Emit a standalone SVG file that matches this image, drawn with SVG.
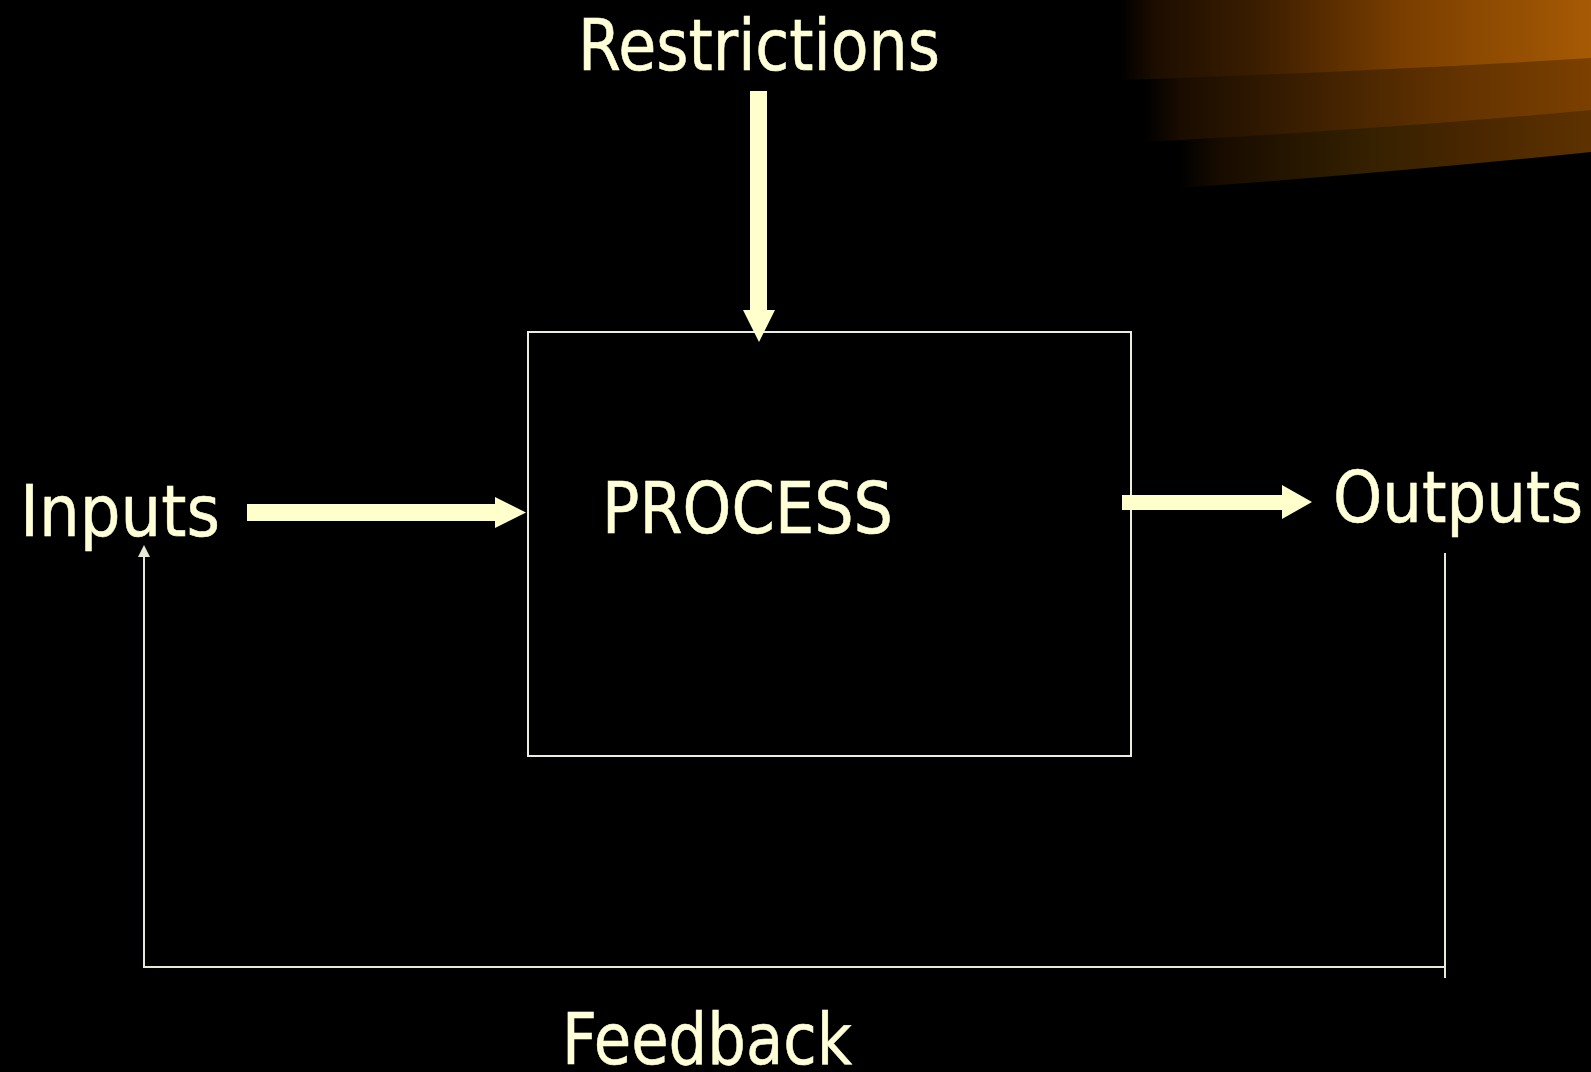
<svg xmlns="http://www.w3.org/2000/svg" width="1591" height="1072" viewBox="0 0 1591 1072">
  <defs>
    <linearGradient id="g1" gradientUnits="userSpaceOnUse" x1="1120" y1="0" x2="1591" y2="0">
      <stop offset="0" stop-color="#000000"/>
      <stop offset="0.08" stop-color="#1E0E00"/>
      <stop offset="0.3" stop-color="#3C1E00"/>
      <stop offset="0.6" stop-color="#7A3E00"/>
      <stop offset="1" stop-color="#A65A04"/>
    </linearGradient>
    <linearGradient id="g2" gradientUnits="userSpaceOnUse" x1="1145" y1="0" x2="1591" y2="0">
      <stop offset="0" stop-color="#000000"/>
      <stop offset="0.08" stop-color="#1A0C00"/>
      <stop offset="0.35" stop-color="#3A1E00"/>
      <stop offset="0.65" stop-color="#5E3000"/>
      <stop offset="1" stop-color="#7C4000"/>
    </linearGradient>
    <linearGradient id="g3" gradientUnits="userSpaceOnUse" x1="1180" y1="0" x2="1591" y2="0">
      <stop offset="0" stop-color="#000000"/>
      <stop offset="0.1" stop-color="#180C00"/>
      <stop offset="0.45" stop-color="#342000"/>
      <stop offset="0.7" stop-color="#482600"/>
      <stop offset="1" stop-color="#5E3200"/>
    </linearGradient>
    <style>
      .lbl { font-family: "DejaVu Sans", "Liberation Sans", sans-serif; font-size: 72px; fill: #FFFFD8; stroke: #FFFFD8; stroke-width: 0.6; }
      .block { fill: #FFFFCC; }
      .thin { fill: none; stroke: #E8E8D6; stroke-width: 2; }
      .box { fill: none; stroke: #EDEDDC; stroke-width: 2; }
    </style>
  </defs>
  <rect x="0" y="0" width="1591" height="1072" fill="#000000"/>
  <g id="decoration">
    <path d="M1180,0 H1591 V152 Q1400,172 1180,188 Z" fill="url(#g3)"/>
    <path d="M1145,0 H1591 V110 Q1400,128 1145,142 Z" fill="url(#g2)"/>
    <path d="M1120,0 H1591 V58 Q1400,70 1120,80 Z" fill="url(#g1)"/>
  </g>
  <g id="process">
    <rect class="box" x="528" y="332" width="603" height="424"/>
    <text class="lbl" x="602" y="533" textLength="291" lengthAdjust="spacingAndGlyphs">PROCESS</text>
  </g>
  <g id="restrictions">
    <text class="lbl" x="578" y="70" textLength="362" lengthAdjust="spacingAndGlyphs">Restrictions</text>
  </g>
  <g id="inputs">
    <text class="lbl" x="20" y="536" textLength="200" lengthAdjust="spacingAndGlyphs">Inputs</text>
  </g>
  <g id="outputs">
    <text class="lbl" x="1333" y="522" textLength="250" lengthAdjust="spacingAndGlyphs">Outputs</text>
  </g>
  <g id="feedback">
    <text class="lbl" x="562" y="1064" textLength="290" lengthAdjust="spacingAndGlyphs">Feedback</text>
  </g>
  <g id="connectors">
    <polygon class="block" points="750,91 767,91 767,310 775,310 759,342 743,310 750,310"/>
    <polygon class="block" points="247,504 495,504 495,497 526,512.5 495,528 495,521 247,521"/>
    <polygon class="block" points="1122,495 1282,495 1282,485 1312,502 1282,519 1282,510 1122,510"/>
    <polyline class="thin" points="1445,553 1445,978"/>
    <polyline class="thin" points="1445,967 144,967 144,555"/>
    <polygon points="144,545 150,557 138,557" fill="#E8E8D6"/>
  </g>
</svg>
